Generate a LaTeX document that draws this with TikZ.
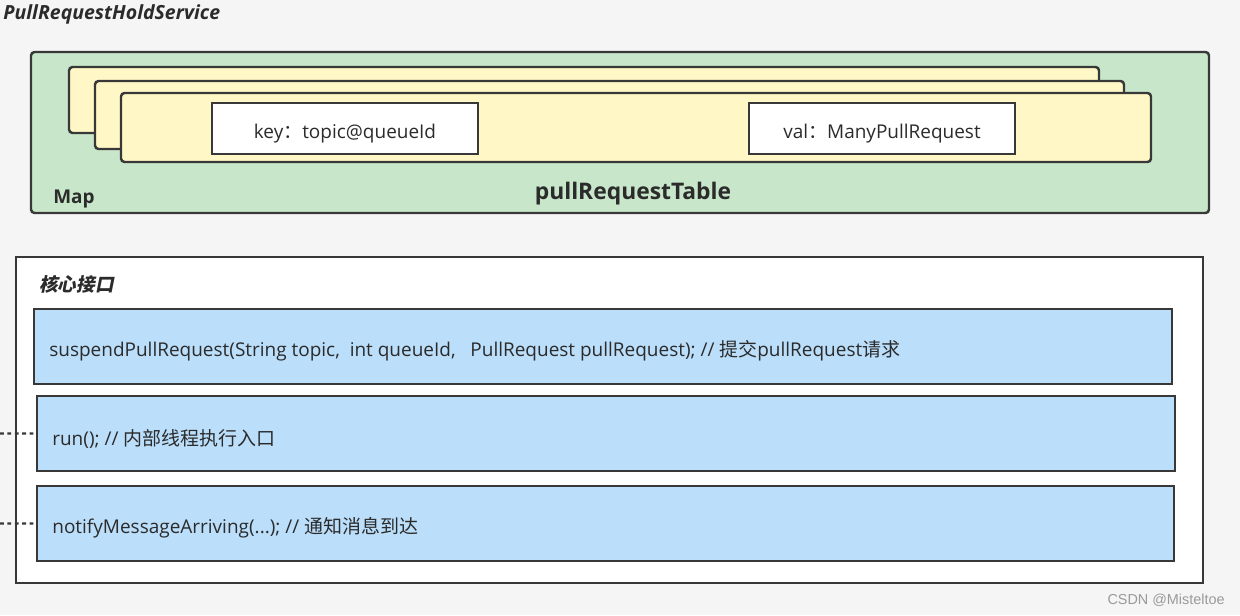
\documentclass[tikz,border=0pt]{standalone}
\usepackage{fontspec}
\setmainfont{Open Sans}
\newfontfamily\cjk{Noto Sans CJK SC}
\newfontfamily\cjkit{Noto Sans CJK SC}[FakeSlant=0.2]
\newfontfamily\wmfont{Liberation Sans}
\usetikzlibrary{fit}
\definecolor{bgc}{HTML}{F5F5F5}
\definecolor{bordc}{HTML}{383838}
\definecolor{greenc}{HTML}{C8E6C9}
\definecolor{yellowc}{HTML}{FFF8C6}
\definecolor{bluec}{HTML}{BBDEFA}
\definecolor{txtc}{HTML}{2B2B2B}
\definecolor{wmc}{HTML}{9A9A9A}
\begin{document}
\begin{tikzpicture}[x=0.02cm,y=-0.02cm,
  frame/.style={draw=bordc, line width=1.4pt, inner sep=0pt},
  mapbox/.style={frame, fill=greenc, rounded corners=2pt},
  card/.style={frame, fill=yellowc, rounded corners=2pt},
  kvbox/.style={frame, fill=white},
  ifbox/.style={frame, fill=white},
  meth/.style={frame, fill=bluec},
  lbl/.style={text=txtc, font=\fontsize{10.8pt}{12pt}\selectfont, inner sep=0pt},
  blbl/.style={text=txtc, font=\fontsize{10.8pt}{12pt}\selectfont\bfseries, inner sep=0pt},
  conn/.style={draw=bordc, line width=1.4pt, dash pattern=on 2.2pt off 2pt}]
\useasboundingbox (0,0) rectangle (1240,615);
\fill[bgc] (0,0) rectangle (1240,615);

% title
\node[blbl, anchor=west, font=\fontsize{11.1pt}{12pt}\selectfont\bfseries\itshape] (title) at (3,14) {PullRequestHoldService};

% map
\node[mapbox, fit={(31,52)(1209,213)}] (map) {};
\node[card, fit={(69,67)(1099,133)}] (c1) {};
\node[card, fit={(95,81)(1124,149)}] (c2) {};
\node[card, fit={(121,93)(1151,162)}] (c3) {};
\node[kvbox, fit={(212,103)(478,154)}] (key) {};
\node[kvbox, fit={(749,103)(1015,154)}] (val) {};
\node[lbl] (keyt) at ([yshift=-0.11cm]key.center) {key{\cjk ：}topic@queueId};
\node[lbl] (valt) at ([yshift=-0.11cm]val.center) {val{\cjk ：}ManyPullRequest};
\node[blbl, anchor=west] (maplbl) at (53,199) {Map};
\node[blbl, font=\fontsize{13pt}{15pt}\selectfont\bfseries] (tbl) at (633,194) {pullRequestTable};

% interface
\node[ifbox, fit={(16,257)(1203,583)}] (ifc) {};
\node[blbl, anchor=west, font=\fontsize{10.6pt}{12pt}\selectfont\cjkit\bfseries] (ift) at (39,284) {核心接口};
\node[meth, fit={(34,309)(1172,384)}] (m1) {};
\node[meth, fit={(37,396)(1175,471)}] (m2) {};
\node[meth, fit={(37,486)(1174,561)}] (m3) {};
\node[lbl, anchor=west] (m1t) at (49,351) {suspendPullRequest(String topic,\ \ int queueId,\ \ \ PullRequest pullRequest); // {\cjk 提交}pullRequest{\cjk 请求}};
\node[lbl, anchor=west] (m2t) at (52,439) {run(); // {\cjk 内部线程执行入口}};
\node[lbl, anchor=west] (m3t) at (52,528) {notifyMessageArriving(...); // {\cjk 通知消息到达}};

% dotted connectors
\coordinate (e2) at (0,433.5);
\coordinate (e3) at (0,523.5);
\draw[conn] (e2) -- (m2.west);
\draw[conn] (e3) -- (m3.west);

% watermark
\node[text=wmc, font=\wmfont\fontsize{8.2pt}{9pt}\selectfont, inner sep=0pt, anchor=east] (wm) at (1225,600) {CSDN @Misteltoe};
\end{tikzpicture}
\end{document}
